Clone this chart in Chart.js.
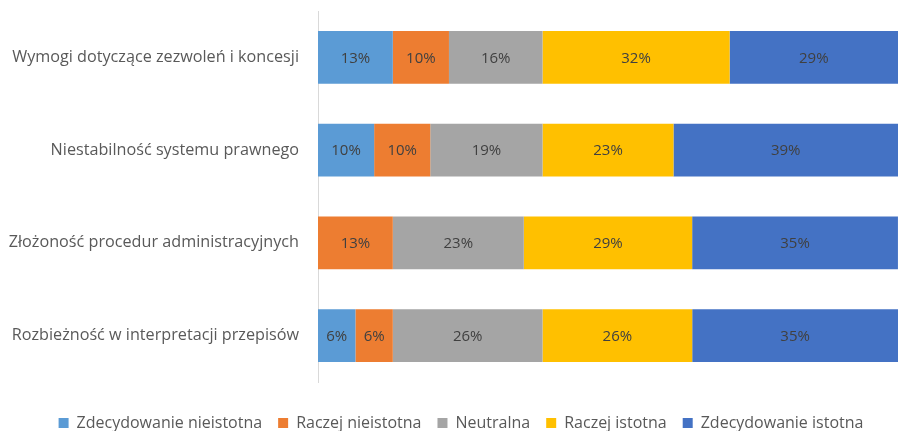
<!DOCTYPE html>
<html>
<head>
<meta charset="utf-8">
<script src="https://cdn.jsdelivr.net/npm/chart.js@4"></script>
<style>
  html, body { margin: 0; padding: 0; background: #fff; }
  #wrap { width: 898px; height: 431px; }
</style>
</head>
<body>
<div id="wrap"><canvas id="chart"></canvas></div>
<script>
// --- DATA ---
const categories = [
    'Wymogi dotyczące zezwoleń i koncesji',
    'Niestabilność systemu prawnego',
    'Złożoność procedur administracyjnych',
    'Rozbieżność w interpretacji przepisów'
];
const seriesNames = ['Zdecydowanie nieistotna', 'Raczej nieistotna', 'Neutralna', 'Raczej istotna', 'Zdecydowanie istotna'];
const zdecNieistotna = [12.90, 9.68, 0, 6.45];
const raczejNieistotna = [9.68, 9.68, 12.90, 6.45];
const neutralna = [16.13, 19.35, 22.58, 25.81];
const raczejIstotna = [32.26, 22.58, 29.03, 25.81];
const zdecIstotna = [29.03, 38.71, 35.48, 35.48];
const colors = ['#5B9BD5', '#ED7D31', '#A5A5A5', '#FFC000', '#4472C4'];

const seriesValues = [zdecNieistotna, raczejNieistotna, neutralna, raczejIstotna, zdecIstotna];

// draws the percent labels inside the bars
const barLabels = {
    id: 'barLabels',
    afterDatasetsDraw(chart) {
        const ctx = chart.ctx;
        ctx.save();
        ctx.font = '15px "Open Sans"';
        ctx.fillStyle = '#404040';
        ctx.textAlign = 'center';
        ctx.textBaseline = 'middle';
        chart.data.datasets.forEach((ds, i) => {
            chart.getDatasetMeta(i).data.forEach((bar, j) => {
                const v = ds.data[j];
                if (!v) return;
                const p = bar.getCenterPoint();
                ctx.fillText(Math.round(v) + '%', p.x, p.y + 1);
            });
        });
        ctx.restore();
    }
};

// nudge the legend down/right a bit, like the original
const legendNudge = {
    id: 'legendNudge',
    afterLayout(chart) {
        const lg = chart.legend;
        lg.top += 17;
        lg.bottom += 17;
        lg.left += 12;
        lg.right += 12;
    }
};

new Chart(document.getElementById('chart'), {
    type: 'bar',
    data: {
        labels: categories,
        datasets: seriesNames.map((name, i) => ({
            label: name,
            data: seriesValues[i],
            backgroundColor: colors[i],
            barPercentage: 0.57,
            categoryPercentage: 1
        }))
    },
    options: {
        indexAxis: 'y',
        responsive: true,
        maintainAspectRatio: false,
        animation: false,
        layout: { padding: { top: 11, right: 0, bottom: 7, left: 0 } },
        scales: {
            x: { stacked: true, min: 0, max: 100, display: false },
            y: {
                stacked: true,
                grid: { display: false, drawTicks: false },
                border: { color: '#D9D9D9', width: 1 },
                ticks: { color: '#595959', font: { family: 'Open Sans', size: 16.2 }, padding: 19 },
                afterFit(scale) {
                    scale.width = 318;
                    scale.paddingTop = 0;
                    scale.paddingBottom = 0;
                }
            }
        },
        plugins: {
            legend: {
                position: 'bottom',
                labels: {
                    color: '#595959',
                    font: { family: 'Open Sans', size: 16 },
                    boxWidth: 10,
                    boxHeight: 10,
                    padding: 16
                }
            },
            tooltip: { enabled: false }
        }
    },
    plugins: [barLabels, legendNudge]
});
</script>
</body>
</html>
